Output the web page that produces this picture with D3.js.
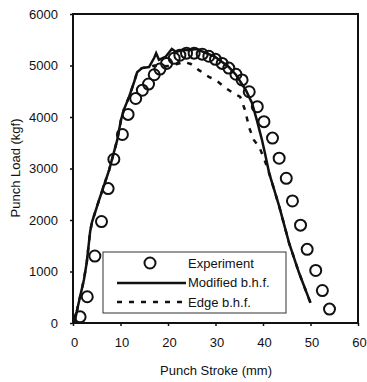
<!DOCTYPE html>
<html>
<head>
<meta charset="utf-8">
<script src="https://cdn.jsdelivr.net/npm/d3@7"></script>
<style>
  body { margin: 0; background: #fff; }
  text { font-family: "Liberation Sans", Arial, sans-serif; fill: #111; }
</style>
</head>
<body>
<svg id="chart" width="367" height="382"></svg>
<script>
// experiment points: stroke (mm), load (kgf)
var expX = [1.5, 3.0, 4.6, 6.0, 7.4, 8.6, 10.4, 11.6, 13.2, 14.6, 15.9, 17.1, 18.3, 19.7, 21.3, 22.5, 23.9, 25.5,
            27.2, 28.6, 30.0, 31.4, 32.8, 34.3, 35.6, 37.1, 38.8, 40.2, 42.0, 43.4, 44.9, 46.2, 47.9, 49.3, 51.1, 52.5, 54.0];
var expY = [120, 510, 1300, 1970, 2610, 3180, 3660, 4050, 4360, 4520, 4640, 4820, 4930, 5040, 5140, 5200, 5240, 5240,
            5220, 5180, 5120, 5040, 4950, 4830, 4720, 4490, 4200, 3910, 3590, 3200, 2810, 2370, 1900, 1430, 1020, 630, 270];

// modified b.h.f. (solid)
var modX = [0.3, 1.0, 2.3, 2.9, 3.6, 4.0, 5.5, 7.6, 9.3, 10.1, 10.7, 11.8, 12.8, 13.5, 14.5, 16.0, 17.1, 17.5, 18.1,
            19.5, 20.8, 21.7, 22.9, 24.4, 26.1, 28.0, 29.7, 31.4, 32.8, 34.3, 36.4, 37.7, 38.7, 39.8, 40.4, 41.3, 43.4,
            45.5, 47.6, 50.0];
var modY = [0, 310, 840, 1180, 1770, 1960, 2390, 2970, 3550, 3940, 4140, 4390, 4660, 4870, 4950, 4970, 5150, 5240, 5110,
            5170, 5320, 5260, 5300, 5300, 5320, 5240, 5180, 5070, 4970, 4820, 4520, 4270, 3940, 3550, 3300, 2910, 2270,
            1550, 970, 390];

// edge b.h.f. (dashed)
var edgeX = [0.3, 1.0, 2.3, 2.9, 3.6, 4.0, 5.5, 7.6, 9.3, 10.1, 10.7, 11.8, 12.8, 13.5, 14.5, 16.0, 17.1, 18.2, 20.2,
             21.9, 23.4, 24.8, 26.5, 28.6, 30.3, 32.2, 33.5, 35.2, 36.2, 37.1, 38.1, 39.2, 40.2, 41.3, 43.4, 45.5, 47.6, 50.0];
var edgeY = [0, 310, 840, 1180, 1770, 1960, 2390, 2970, 3550, 3940, 4140, 4390, 4660, 4870, 4950, 4970, 5000, 4980, 4990,
             5030, 5070, 5030, 4910, 4780, 4700, 4560, 4480, 4390, 4140, 3790, 3550, 3420, 3200, 2910, 2270, 1550, 970, 390];

var xTicks = [0, 10, 20, 30, 40, 50, 60];
var yTicks = [0, 1000, 2000, 3000, 4000, 5000, 6000];

var svg = d3.select("#chart");
var x = d3.scaleLinear().domain([0, 60]).range([73, 358]);
var y = d3.scaleLinear().domain([0, 6000]).range([323, 14]);

var xAxis = svg.append("g").attr("transform", "translate(0,323)")
    .call(d3.axisBottom(x).tickValues(xTicks).tickFormat(d3.format("d")).tickSize(3).tickPadding(12).tickSizeOuter(0));
var yAxis = svg.append("g").attr("transform", "translate(73,0)")
    .call(d3.axisLeft(y).tickValues(yTicks).tickFormat(d3.format("d")).tickSize(3).tickPadding(12).tickSizeOuter(0));
[xAxis, yAxis].forEach(function (g) {
    g.select(".domain").remove();
    g.selectAll("line").attr("stroke", "#111").attr("stroke-width", 1.5);
    g.selectAll("text").style("font-size", "13px").attr("fill", "#111");
});
xAxis.selectAll("text").attr("dx", "1px");

svg.append("rect")
    .attr("x", x(0)).attr("y", y(6000))
    .attr("width", x(60) - x(0)).attr("height", y(0) - y(6000))
    .attr("fill", "none").attr("stroke", "#111").attr("stroke-width", 2);

var line = d3.line().x(function (d) { return x(d[0]); }).y(function (d) { return y(d[1]); });

svg.append("path")
    .datum(d3.zip(edgeX, edgeY))
    .attr("d", line).attr("fill", "none").attr("stroke", "#111")
    .attr("stroke-width", 2.5).attr("stroke-dasharray", "5,7");

svg.append("path")
    .datum(d3.zip(modX, modY))
    .attr("d", line).attr("fill", "none").attr("stroke", "#111")
    .attr("stroke-width", 2.5);

svg.append("g").selectAll("circle")
    .data(d3.zip(expX, expY))
    .enter().append("circle")
    .attr("cx", function (d) { return x(d[0]); })
    .attr("cy", function (d) { return y(d[1]); })
    .attr("r", 5.5)
    .attr("fill", "none").attr("stroke", "#111").attr("stroke-width", 2);

// legend
var lg = svg.append("g");
lg.append("rect").attr("x", 103).attr("y", 252).attr("width", 183).attr("height", 61)
    .attr("fill", "#fff").attr("stroke", "#333").attr("stroke-width", 1);
lg.append("circle").attr("cx", 150).attr("cy", 263).attr("r", 5.5)
    .attr("fill", "none").attr("stroke", "#111").attr("stroke-width", 2);
lg.append("line").attr("x1", 117).attr("x2", 186).attr("y1", 283).attr("y2", 283)
    .attr("stroke", "#111").attr("stroke-width", 2.5);
lg.append("line").attr("x1", 117).attr("x2", 186).attr("y1", 302).attr("y2", 302)
    .attr("stroke", "#111").attr("stroke-width", 2.5).attr("stroke-dasharray", "5,7");
lg.selectAll("text.lab").data(["Experiment", "Modified b.h.f.", "Edge b.h.f."])
    .enter().append("text")
    .attr("x", 188).attr("y", function (d, i) { return 267.5 + i * 19.5; })
    .style("font-size", "13px").text(function (d) { return d; });

svg.append("text").attr("x", 216).attr("y", 375).attr("text-anchor", "middle")
    .style("font-size", "13px").text("Punch Stroke (mm)");
svg.append("text").attr("transform", "translate(20,168) rotate(-90)").attr("text-anchor", "middle")
    .style("font-size", "13px").text("Punch Load (kgf)");
</script>
</body>
</html>
